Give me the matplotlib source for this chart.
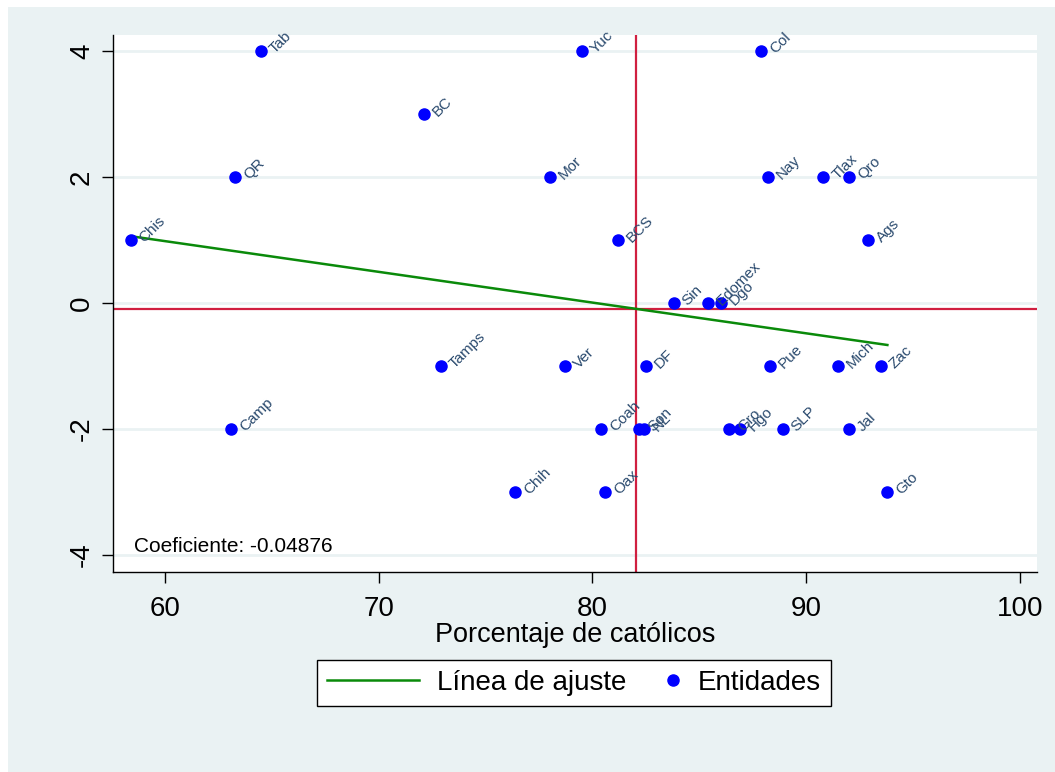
import numpy as np
import matplotlib.pyplot as plt
from matplotlib.patches import Rectangle
from matplotlib.legend_handler import HandlerLine2D

plt.rcParams['font.family'] = ['Liberation Sans', 'DejaVu Sans']
plt.rcParams['axes.unicode_minus'] = False

# Entidades: porcentaje de católicos vs. valor del índice
entidades = ['Tab', 'Yuc', 'Col', 'BC', 'QR', 'Mor', 'Nay', 'Tlax', 'Qro',
             'Chis', 'BCS', 'Ags', 'Sin', 'Edomex', 'Dgo',
             'Tamps', 'Ver', 'DF', 'Pue', 'Mich', 'Zac',
             'Camp', 'Coah', 'Son', 'NL', 'Gro', 'Hgo', 'SLP', 'Jal',
             'Chih', 'Oax', 'Gto']
catolicos = [64.5, 79.5, 87.9, 72.1, 63.3, 78.0, 88.2, 90.8, 92.0,
             58.4, 81.2, 92.9, 83.8, 85.4, 86.0,
             72.9, 78.7, 82.5, 88.3, 91.5, 93.5,
             63.1, 80.4, 82.2, 82.4, 86.4, 86.9, 88.9, 92.0,
             76.4, 80.6, 93.8]
indice = [4, 4, 4, 3, 2, 2, 2, 2, 2,
          1, 1, 1, 0, 0, 0,
          -1, -1, -1, -1, -1, -1,
          -2, -2, -2, -2, -2, -2, -2, -2,
          -3, -3, -3]
coeficiente = -0.04876

x = np.array(catolicos)
y = np.array(indice)
x_media = x.mean()
y_media = y.mean()

# linea de ajuste a partir del coeficiente, pasando por las medias
x_fit = np.array([x.min(), x.max()])
y_fit = y_media + coeficiente * (x_fit - x_media)


class MarcadorDerecha(HandlerLine2D):
    # el marcador va al centro de xdata: se corre al final de la caja, junto al texto
    def get_xdata(self, legend, xdescent, ydescent, width, height, fontsize):
        off = 0.25 * fontsize
        xdata = np.array([-xdescent + width - 2 * off, -xdescent + width])
        return xdata, np.array([-xdescent + width - off])


bg = '#eaf2f3'
W, H = 1055, 772
fig = plt.figure(figsize=(W / 100, H / 100), dpi=100, facecolor=bg)
fig.patches.append(Rectangle((0, 0), 8 / W, 1, transform=fig.transFigure,
                             facecolor='white', edgecolor='none', zorder=-10))
fig.patches.append(Rectangle((0, 1 - 7 / H), 1, 7 / H, transform=fig.transFigure,
                             facecolor='white', edgecolor='none', zorder=-10))

ax = fig.add_axes([113 / W, 1 - 572 / H, (1037 - 113) / W, (572 - 35) / H])
ax.set_facecolor('white')

for v in [-4, -2, 0, 2, 4]:
    ax.axhline(v, color=bg, lw=2, zorder=0)

ax.axvline(x_media, color='#d01f40', lw=1.6, zorder=1)
ax.axhline(y_media, color='#d01f40', lw=1.6, zorder=1)

ax.plot(x_fit, y_fit, color='#0a8a0a', lw=1.8, zorder=2, label='Línea de ajuste')
ax.plot(x, y, 'o', color='#0000ff', ms=8, zorder=3, label='Entidades')

for nombre, xi, yi in zip(entidades, x, y):
    ax.annotate(nombre, (xi, yi), xytext=(8, 0), textcoords='offset points',
                rotation=45, rotation_mode='anchor', ha='left', va='center',
                fontsize=11, color='#2a4a6e', zorder=4)

ax.text(0.023, 0.03, 'Coeficiente: {:.5f}'.format(coeficiente), transform=ax.transAxes,
        fontsize=15, color='black', ha='left', va='bottom')

ax.set_xlim(57.57, 100.8)
ax.set_ylim(-4.27, 4.25)
ax.set_xticks([60, 70, 80, 90, 100])
ax.set_yticks([-4, -2, 0, 2, 4])
ax.tick_params(axis='both', direction='out', length=8, width=1, labelsize=20, pad=5)
ax.tick_params(axis='x', pad=9)
for lab in ax.get_yticklabels():
    lab.set_rotation(90)
    lab.set_va('center')
ax.set_xlabel('Porcentaje de católicos', fontsize=19.5, labelpad=0)

for s in ['top', 'right']:
    ax.spines[s].set_visible(False)
for s in ['left', 'bottom']:
    ax.spines[s].set_linewidth(1)

h_linea, h_punto = ax.get_lines()[-2:]
leg = fig.legend([h_linea, h_punto], ['Línea de ajuste', 'Entidades'],
                 loc='center', bbox_to_anchor=(574 / W, 1 - 683 / H), ncol=2, fontsize=20,
                 frameon=True, fancybox=False, edgecolor='black', framealpha=1,
                 handlelength=3.3, columnspacing=-1.37, handletextpad=0.65,
                 borderpad=0.35, handler_map={h_punto: MarcadorDerecha(numpoints=1)})
leg.get_frame().set_linewidth(1)

fig.savefig('out.png', dpi=100, facecolor=fig.get_facecolor())
